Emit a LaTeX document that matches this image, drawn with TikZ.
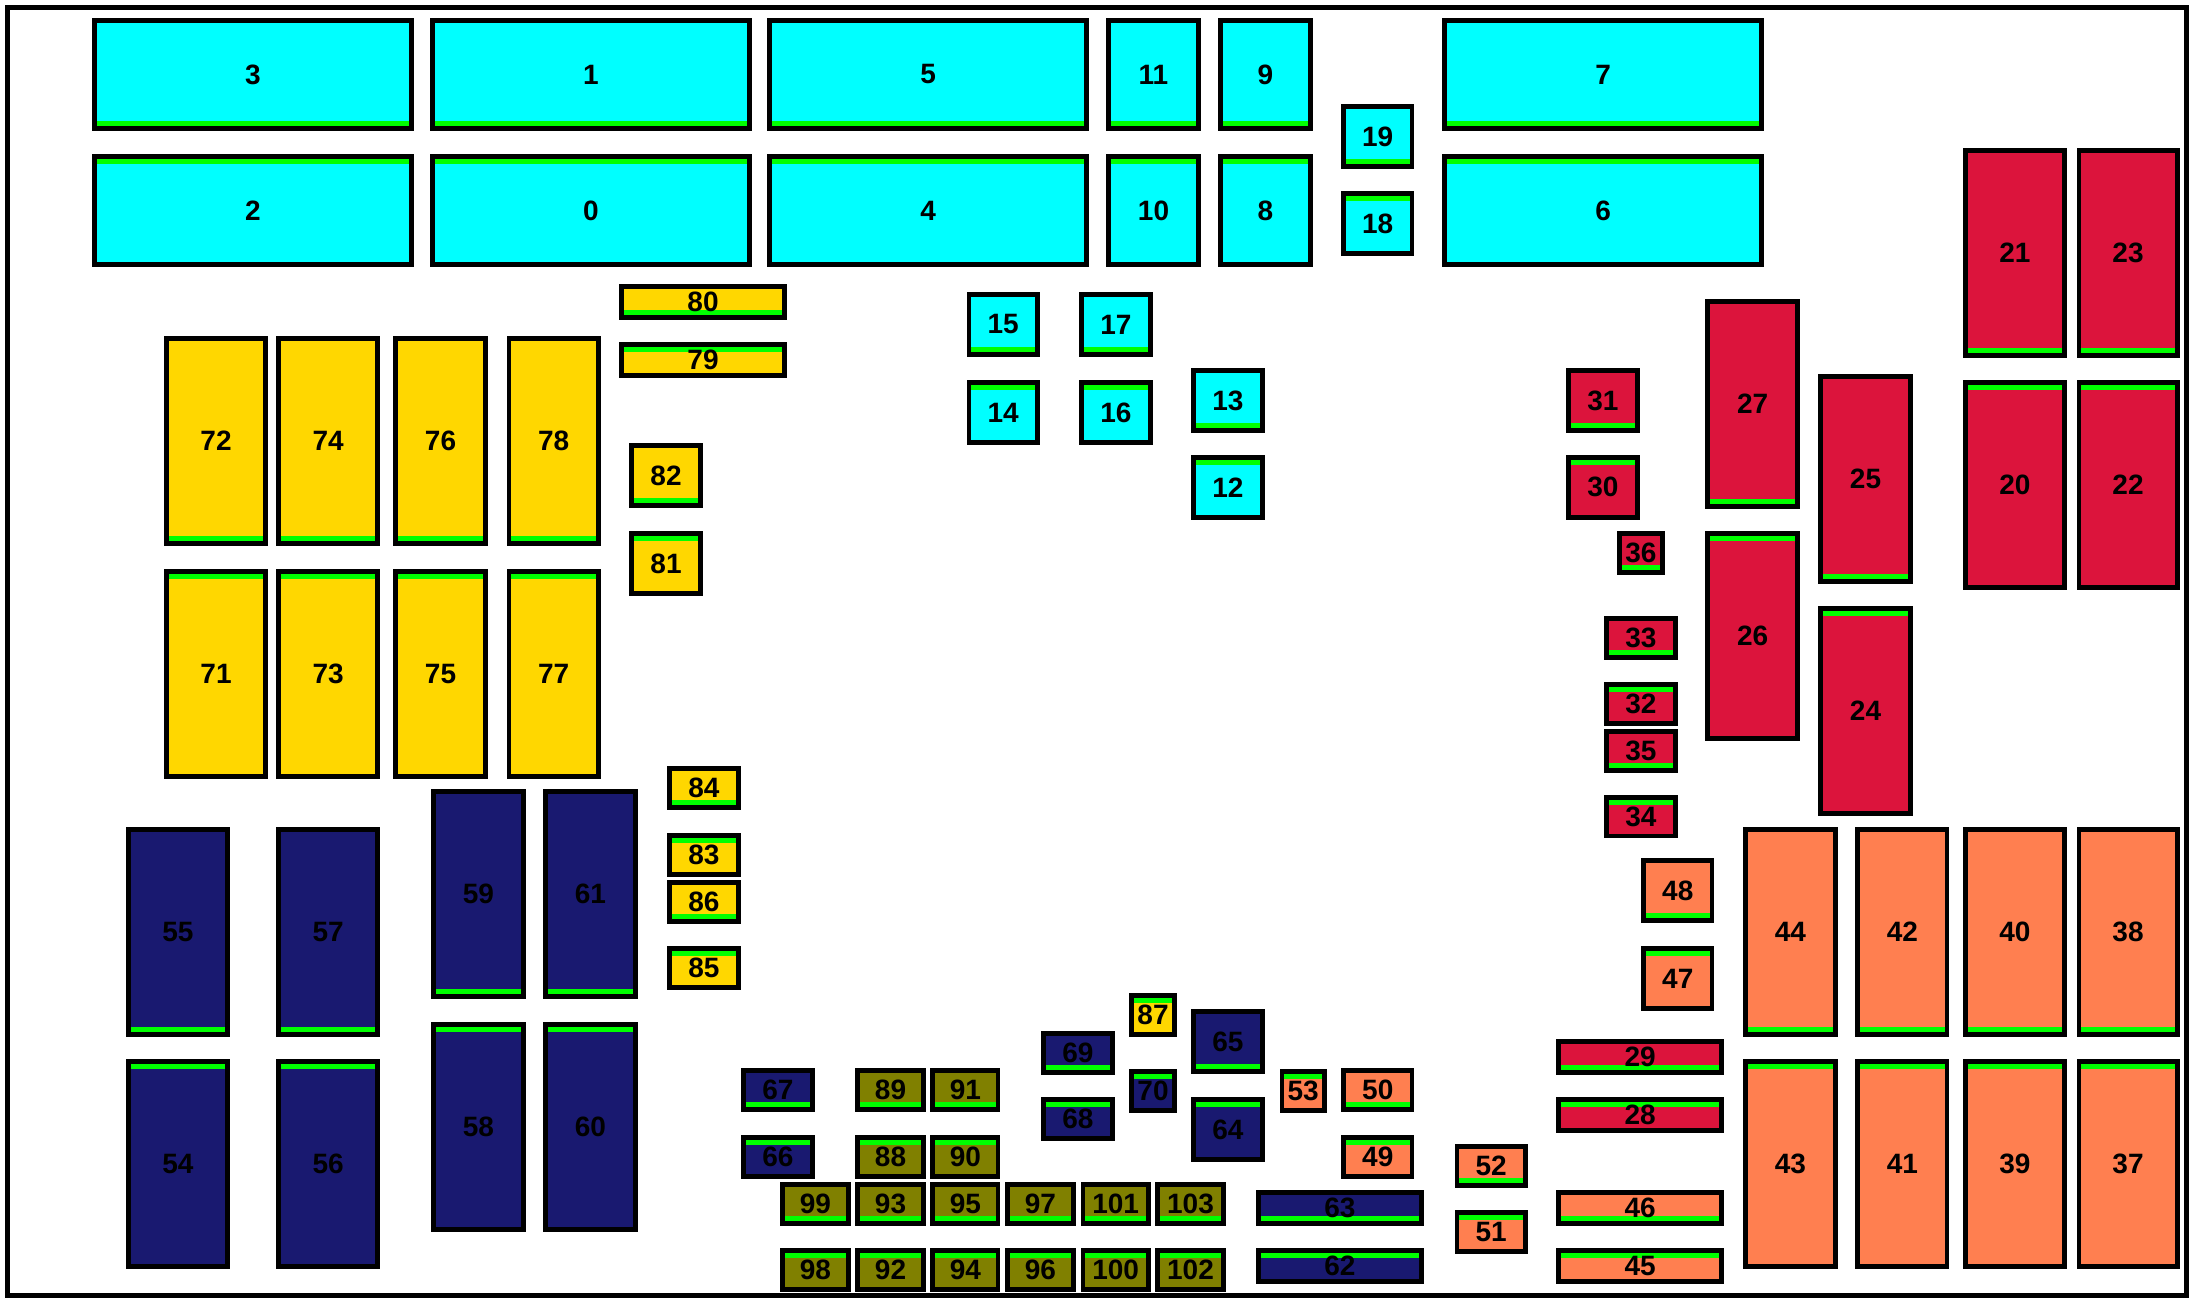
\documentclass[tikz,border=0pt]{standalone}
\usepackage{fontspec}
\setmainfont{Liberation Sans}
\definecolor{cy}{HTML}{00FFFF}
\definecolor{grn}{HTML}{00FF00}
\definecolor{yl}{HTML}{FFD700}
\definecolor{nv}{HTML}{191970}
\definecolor{rd}{HTML}{DC143C}
\definecolor{orng}{HTML}{FF7F50}
\definecolor{ol}{HTML}{808000}
\tikzset{
  fbord/.style={draw=black,line width=4.8pt},
  stripe/.style={fill=grn},
  lbl/.style={font=\fontsize{28}{30}\selectfont\bfseries,inner sep=0pt,text=black},
}
\newcommand{\fuseT}[6]{%
  \fill[#2] (#3,#4) rectangle (#5,#6);
  \fill[stripe] (#3,#4) rectangle (#5,{#4+7.4});
  \draw[fbord] (#3,#4) rectangle (#5,#6);
  \node[lbl] (f#1) at ({(#3+#5)/2},{(#4+#6)/2}) {#1};}
\newcommand{\fuseB}[6]{%
  \fill[#2] (#3,#4) rectangle (#5,#6);
  \fill[stripe] (#3,{#6-7.4}) rectangle (#5,#6);
  \draw[fbord] (#3,#4) rectangle (#5,#6);
  \node[lbl] (f#1) at ({(#3+#5)/2},{(#4+#6)/2}) {#1};}
\begin{document}
\begin{tikzpicture}[x=1pt,y=-1pt]
\useasboundingbox (0,0) rectangle (2194,1303);
\fill[white] (0,0) rectangle (2194,1303);
\draw[line width=4.8pt] (7.3,7.3) rectangle (2186.6,1295.5);
% cyan
\fuseB{3}{cy}{94.5}{20.7}{411.4}{128.3}
\fuseT{2}{cy}{94.5}{156.5}{411.4}{264.3}
\fuseB{1}{cy}{432.5}{20.7}{749.5}{128.3}
\fuseT{0}{cy}{432.5}{156.5}{749.5}{264.3}
\fuseB{5}{cy}{769.7}{20.7}{1086.4}{128.3}
\fuseT{4}{cy}{769.7}{156.5}{1086.4}{264.3}
\fuseB{11}{cy}{1108.6}{20.7}{1198.4}{128.3}
\fuseT{10}{cy}{1108.6}{156.5}{1198.4}{264.3}
\fuseB{9}{cy}{1220.5}{20.7}{1310.3}{128.3}
\fuseT{8}{cy}{1220.5}{156.5}{1310.3}{264.3}
\fuseB{7}{cy}{1444.6}{20.7}{1761.5}{128.3}
\fuseT{6}{cy}{1444.6}{156.5}{1761.5}{264.3}
\fuseB{19}{cy}{1343.3}{106.7}{1412}{166.3}
\fuseT{18}{cy}{1343.3}{193.7}{1412}{253.3}
\fuseB{15}{cy}{968.9}{294.7}{1037.3}{354.3}
\fuseT{14}{cy}{968.9}{382.7}{1037.3}{442.3}
\fuseB{17}{cy}{1081.5}{294.7}{1150.4}{354.3}
\fuseT{16}{cy}{1081.5}{382.7}{1150.4}{442.3}
\fuseB{13}{cy}{1193.5}{370.7}{1262.3}{430.3}
\fuseT{12}{cy}{1193.5}{457.3}{1262.3}{517.3}
% yellow
\fuseB{80}{yl}{621.7}{286.7}{784.4}{317.3}
\fuseT{79}{yl}{621.7}{344.7}{784.4}{375.3}
\fuseB{72}{yl}{166.6}{338.3}{265.5}{543.3}
\fuseT{71}{yl}{166.6}{571.7}{265.5}{776.3}
\fuseB{74}{yl}{278.8}{338.3}{377.4}{543.3}
\fuseT{73}{yl}{278.8}{571.7}{377.4}{776.3}
\fuseB{76}{yl}{395.6}{338.3}{485.4}{543.3}
\fuseT{75}{yl}{395.6}{571.7}{485.4}{776.3}
\fuseB{78}{yl}{508.9}{338.3}{598.5}{543.3}
\fuseT{77}{yl}{508.9}{571.7}{598.5}{776.3}
\fuseB{82}{yl}{631.8}{445.7}{700.2}{505.3}
\fuseT{81}{yl}{631.8}{533.7}{700.2}{593.3}
\fuseB{84}{yl}{669.7}{768.7}{738.1}{807.3}
\fuseT{83}{yl}{669.7}{835.3}{738.1}{874.3}
\fuseB{86}{yl}{669.7}{882.7}{738.1}{921.3}
\fuseT{85}{yl}{669.7}{948.7}{738.1}{987.3}
\fuseT{87}{yl}{1131.8}{995.7}{1174.2}{1034.3}
% navy
\fuseB{55}{nv}{128.4}{829.7}{227.3}{1034.3}
\fuseT{54}{nv}{128.4}{1061.7}{227.3}{1266.3}
\fuseB{57}{nv}{278.8}{829.7}{377.4}{1034.3}
\fuseT{56}{nv}{278.8}{1061.7}{377.4}{1266.3}
\fuseB{59}{nv}{433.5}{791.7}{523.3}{996.3}
\fuseT{58}{nv}{433.5}{1024.7}{523.3}{1229.3}
\fuseB{61}{nv}{545.4}{791.7}{635.3}{996.3}
\fuseT{60}{nv}{545.4}{1024.7}{635.3}{1229.3}
\fuseB{67}{nv}{743.7}{1070.7}{812.1}{1109.3}
\fuseT{66}{nv}{743.7}{1137.7}{812.1}{1176.3}
\fuseB{69}{nv}{1043.6}{1033.7}{1112.1}{1072.3}
\fuseT{68}{nv}{1043.6}{1099.7}{1112.1}{1138.3}
\fuseT{70}{nv}{1131.8}{1071.7}{1174.2}{1110.3}
\fuseB{65}{nv}{1193.5}{1011.7}{1262.3}{1071.3}
\fuseT{64}{nv}{1193.5}{1099.7}{1262.3}{1159.3}
\fuseB{63}{nv}{1258.7}{1192.7}{1421.1}{1223.3}
\fuseT{62}{nv}{1258.7}{1250.7}{1421.1}{1281.3}
% olive
\fuseB{89}{ol}{857.7}{1070.7}{923.3}{1109.3}
\fuseB{91}{ol}{932.8}{1070.7}{998}{1109.3}
\fuseT{88}{ol}{857.7}{1137.7}{923.3}{1176.3}
\fuseT{90}{ol}{932.8}{1137.7}{998}{1176.3}
\fuseB{99}{ol}{782.7}{1184.7}{848.2}{1223.3}
\fuseB{93}{ol}{857.7}{1184.7}{923.3}{1223.3}
\fuseB{95}{ol}{932.8}{1184.7}{998}{1223.3}
\fuseB{97}{ol}{1007.8}{1184.7}{1073.1}{1223.3}
\fuseB{101}{ol}{1082.9}{1184.7}{1148.3}{1223.3}
\fuseB{103}{ol}{1157.7}{1184.7}{1223.3}{1223.3}
\fuseT{98}{ol}{782.7}{1250.7}{848.2}{1289.3}
\fuseT{92}{ol}{857.7}{1250.7}{923.3}{1289.3}
\fuseT{94}{ol}{932.8}{1250.7}{998}{1289.3}
\fuseT{96}{ol}{1007.8}{1250.7}{1073.1}{1289.3}
\fuseT{100}{ol}{1082.9}{1250.7}{1148.3}{1289.3}
\fuseT{102}{ol}{1157.7}{1250.7}{1223.3}{1289.3}
% red
\fuseB{21}{rd}{1965.6}{150.7}{2064.2}{355.3}
\fuseB{23}{rd}{2078.9}{150.7}{2177.1}{355.3}
\fuseT{20}{rd}{1965.6}{382.7}{2064.2}{587.3}
\fuseT{22}{rd}{2078.9}{382.7}{2177.1}{587.3}
\fuseB{27}{rd}{1707.8}{301.7}{1797.3}{506.3}
\fuseT{26}{rd}{1707.8}{533.7}{1797.3}{738.3}
\fuseB{25}{rd}{1820.8}{376.7}{1910.2}{581.3}
\fuseT{24}{rd}{1820.8}{608.7}{1910.2}{813.3}
\fuseB{31}{rd}{1568.5}{370.7}{1637.2}{430.3}
\fuseT{30}{rd}{1568.5}{457.3}{1637.2}{517.3}
\fuseB{36}{rd}{1619.3}{533.7}{1662.6}{572.3}
\fuseB{33}{rd}{1606.3}{618.7}{1675.6}{657.3}
\fuseT{32}{rd}{1606.3}{684.7}{1675.6}{723.3}
\fuseB{35}{rd}{1606.3}{731.7}{1675.6}{770.3}
\fuseT{34}{rd}{1606.3}{797.3}{1675.6}{836}
\fuseB{29}{rd}{1558.6}{1041.7}{1721.5}{1072.3}
\fuseT{28}{rd}{1558.6}{1099.7}{1721.5}{1130.3}
% orange
\fuseB{44}{orng}{1745.7}{829.7}{1835.2}{1034.3}
\fuseT{43}{orng}{1745.7}{1061.7}{1835.2}{1266.3}
\fuseB{42}{orng}{1857.6}{829.7}{1947}{1034.3}
\fuseT{41}{orng}{1857.6}{1061.7}{1947}{1266.3}
\fuseB{40}{orng}{1965.6}{829.7}{2064.2}{1034.3}
\fuseT{39}{orng}{1965.6}{1061.7}{2064.2}{1266.3}
\fuseB{38}{orng}{2078.9}{829.7}{2177.1}{1034.3}
\fuseT{37}{orng}{2078.9}{1061.7}{2177.1}{1266.3}
\fuseB{48}{orng}{1643.5}{860.7}{1712}{920.3}
\fuseT{47}{orng}{1643.5}{948.7}{1712}{1008.3}
\fuseB{46}{orng}{1558.6}{1192.7}{1721.5}{1223.3}
\fuseT{45}{orng}{1558.6}{1250.7}{1721.5}{1281.3}
\fuseT{53}{orng}{1281.9}{1071.7}{1324.3}{1110.3}
\fuseB{50}{orng}{1343.6}{1070.7}{1412}{1109.3}
\fuseT{49}{orng}{1343.6}{1137.7}{1412}{1176.3}
\fuseB{52}{orng}{1456.9}{1146.7}{1525.3}{1185.3}
\fuseT{51}{orng}{1456.9}{1212.7}{1525.3}{1251.3}
\end{tikzpicture}
\end{document}
